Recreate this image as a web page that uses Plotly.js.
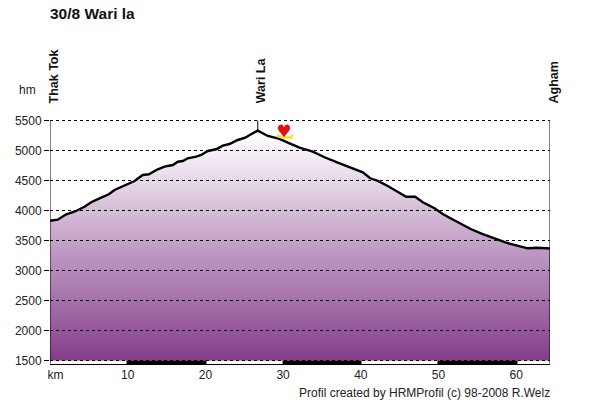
<!DOCTYPE html>
<html><head><meta charset="utf-8">
<script src="https://cdn.plot.ly/plotly-3.0.1.min.js"></script>
<style>html,body{margin:0;padding:0;background:#fff}</style></head>
<body><div id="chart" style="width:600px;height:400px"></div>
<script>
const titleText = '30/8 Wari la';
const footerText = 'Profil created by HRMProfil (c) 98-2008 R.Welz';
const distanceKm = [0,1.0,2.08,3.15,4.44,5.30,6.37,7.57,8.30,9.59,10.88,11.94,12.72,13.87,14.74,15.80,16.45,17.09,17.73,18.82,19.46,20.31,21.39,22.24,23.10,24.17,25.12,26.10,26.74,28.03,29.54,30.82,32.11,33.82,35.33,37.04,39.19,40.26,41.21,42.19,43.47,44.76,45.84,47.0,47.98,49.49,50.55,51.42,52.92,54.21,55.70,57.21,58.71,60.0,61.49,62.65,64.35];
const elevationM = [3830,3847,3937,3980,4063,4137,4203,4270,4342,4413,4492,4592,4603,4687,4730,4758,4813,4825,4870,4897,4925,4992,5020,5080,5108,5175,5213,5287,5330,5242,5192,5120,5047,4980,4887,4797,4687,4637,4537,4492,4408,4313,4230,4230,4137,4037,3942,3880,3770,3687,3608,3537,3463,3420,3370,3380,3367];
const yTicks = [1500,2000,2500,3000,3500,4000,4500,5000,5500];
const xTicks = [10,20,30,40,50,60];
const stripStarts = [9.85,29.93,49.87];
const stripEnds = [20.14,40.09,60.17];
const places = ['Thak Tok','Wari La','Agham'];
const placeKm = [0,26.74,64.35];
const heartKm = [30.09];
const heartM = [5290];
const boatKm = [29.2,30,31,31.2];
const boatM = [5250,5215,5215,5265];
const xMax = 64.35, yLow = 1442, yTop = 5508, stripTop = 1500, stripBottom = 1442;

const FONT = 'Liberation Sans, Arial, sans-serif';
const plotH = 244;
const shapes = [];
yTicks.forEach(v => shapes.push({type:'line',layer:'above',xref:'x',yref:'y',x0:0,x1:xMax,y0:v,y1:v,line:{color:'#000',width:1,dash:'3px,3px'}}));
stripStarts.forEach((s,i) => shapes.push({type:'rect',layer:'above',xref:'x',yref:'y',x0:s,x1:stripEnds[i],y0:stripBottom,y1:stripTop,fillcolor:'#000',line:{width:0}}));
shapes.push({type:'line',layer:'above',xref:'x',yref:'y',x0:0,x1:0,y0:yLow,y1:5500,line:{color:'#000',width:1}});
shapes.push({type:'line',layer:'above',xref:'x',yref:'y',x0:xMax,x1:xMax,y0:yLow,y1:5500,line:{color:'#000',width:1}});
shapes.push({type:'line',layer:'above',xref:'x',yref:'y',x0:placeKm[1],x1:placeKm[1],y0:5330,y1:5500,line:{color:'#000',width:1}});

const annotations = [];
places.forEach((p,i) => annotations.push({text:'<b>'+p+'</b>',x:placeKm[i],xref:'x',xshift:3,y:(364-105.5)/plotH,yref:'paper',textangle:-90,showarrow:false,font:{family:FONT,size:12.5,color:'#111'},xanchor:'center',yanchor:'bottom'}));
annotations.push({text:'hm',xref:'paper',yref:'paper',x:-23/500,y:(364-90)/plotH,showarrow:false,xanchor:'center',yanchor:'middle',font:{family:FONT,size:12,color:'#222'}});
annotations.push({text:footerText,xref:'paper',yref:'paper',x:1,y:(364-393)/plotH,showarrow:false,xanchor:'right',yanchor:'middle',xshift:2,font:{family:FONT,size:12,color:'#222'}});

const traces = [
  {x:[0,xMax],y:[1500,1500],mode:'lines',line:{width:0},hoverinfo:'skip',showlegend:false},
  {x:distanceKm,y:elevationM,mode:'lines',line:{color:'#000',width:2.4},fill:'tonexty',
   fillgradient:{type:'vertical',start:5330,stop:1500,colorscale:[[0,'#ffffff'],[0.22,'#e6d9e8'],[0.48,'#c4a2c8'],[0.87,'#95579b'],[1,'#833c88']]},showlegend:false},
  {x:[xMax,xMax],y:[1500,3367],mode:'lines',line:{color:'#2f8f8a',width:1},showlegend:false},
  {x:boatKm,y:boatM,mode:'lines',line:{color:'#f5e642',width:3},showlegend:false},
  {x:heartKm,y:heartM,mode:'text',text:['\u2665'],textfont:{family:'DejaVu Sans',size:17,color:'#e01010'},textposition:'middle center',showlegend:false}
];
const layout = {
  width:600,height:400,paper_bgcolor:'#fff',plot_bgcolor:'#fff',showlegend:false,
  margin:{l:50,r:50,t:120,b:36,pad:0},
  title:{text:'<b>'+titleText+'</b>',x:50/600,xanchor:'left',y:1-13.5/400,yanchor:'middle',font:{family:FONT,size:15.5,color:'#111'}},
  xaxis:{range:[0,xMax],tickmode:'array',tickvals:[0.7].concat(xTicks),ticktext:['km'].concat(xTicks.map(String)),ticks:'',showgrid:false,zeroline:false,showline:true,linecolor:'#000',linewidth:1,tickfont:{family:FONT,size:12,color:'#222'}},
  yaxis:{range:[yLow,yTop],tickmode:'array',tickvals:yTicks,ticktext:yTicks.map(String),ticks:'outside',ticklen:5,tickcolor:'#000',tickwidth:1,showgrid:false,zeroline:false,showline:false,tickfont:{family:FONT,size:12,color:'#222'}},
  shapes:shapes,annotations:annotations
};
Plotly.newPlot('chart',traces,layout,{displayModeBar:false,staticPlot:true});
</script></body></html>
